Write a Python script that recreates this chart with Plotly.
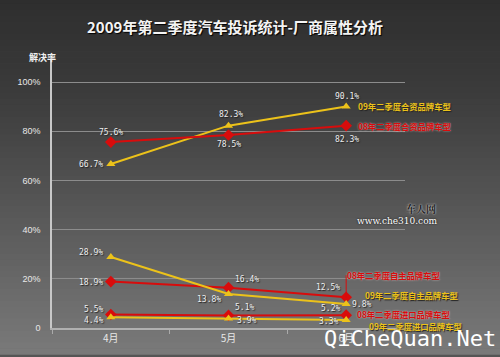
import plotly.graph_objects as go

# ---- data ----
months = ["4月", "5月", "6月"]
y09_jv = [66.7, 82.3, 90.1]      # 09年二季度合资品牌车型
y08_jv = [75.6, 78.5, 82.3]      # 08年二季度合资品牌车型
y08_own = [18.9, 16.4, 12.5]     # 08年二季度自主品牌车型
y09_own = [28.9, 13.8, 9.8]      # 09年二季度自主品牌车型
y08_imp = [5.5, 5.1, 5.2]        # 08年二季度进口品牌车型
y09_imp = [4.4, 3.9, 3.3]        # 09年二季度进口品牌车型
ytick_vals = [0, 20, 40, 60, 80, 100]
ytick_text = ["0", "20%", "40%", "60%", "80%", "100%"]

YELLOW = "#ecc21a"
RED = "#d80c0c"

series = [
    ("09年二季度合资品牌车型", y09_jv, YELLOW, "triangle-up",
     [(-6, 0, "right"), (2, 11, "center"), (1, 10, "center")], (10, 0)),
    ("08年二季度合资品牌车型", y08_jv, RED, "diamond",
     [(0, 10, "center"), (0, -10, "center"), (1, -14, "center")], (10, 0)),
    ("08年二季度自主品牌车型", y08_own, RED, "diamond",
     [(-6, -1, "right"), (4, 8, "left"), (-4, 10, "right")], (-1, 22)),
    ("09年二季度自主品牌车型", y09_own, YELLOW, "triangle-up",
     [(-6, 4, "right"), (-6, -5, "right"), (4, -1, "left")], (17, 9)),
    ("08年二季度进口品牌车型", y08_imp, RED, "diamond",
     [(-6, 5, "right"), (4, 8, "left"), (-4, 7, "right")], (9, 1)),
    ("09年二季度进口品牌车型", y09_imp, YELLOW, "triangle-up",
     [(-6, -3, "right"), (6, -2, "left"), (-6, -2, "right")], (21, -6)),
]

fig = go.Figure()

# background gradient (style only)
stops = [(0.0, (0x2e, 0x2e, 0x2e)), (0.25, (0x3a, 0x3a, 0x3a)), (0.5, (0x4f, 0x4f, 0x4f)),
         (0.75, (0x64, 0x64, 0x64)), (1.0, (0x7a, 0x7a, 0x7a))]


def grad(t):
    for (t0, c0), (t1, c1) in zip(stops[:-1], stops[1:]):
        if t0 <= t <= t1:
            f = (t - t0) / (t1 - t0)
            return "rgb(%d,%d,%d)" % tuple(round(a + (b - a) * f) for a, b in zip(c0, c1))
    return "rgb(122,122,122)"


n = 60
shapes = []
for i in range(n):
    t = (i + 0.5) / n
    shapes.append(dict(type="rect", xref="paper", yref="paper", x0=-0.2, x1=1.3,
                       y0=1.23 - (i + 1) * 1.33 / n, y1=1.23 - i * 1.33 / n + 0.002,
                       fillcolor=grad(t), line=dict(width=0), layer="below"))

annotations = []
for name, vals, col, sym, offs, loff in series:
    fig.add_trace(go.Scatter(
        x=months, y=vals, mode="lines+markers", name=name,
        line=dict(color=col, width=2),
        marker=dict(symbol=sym, size=9 if sym == "diamond" else 8, color=col),
        showlegend=False, hoverinfo="skip"))
    for m, v, (xs, ys, xa) in zip(months, vals, offs):
        annotations.append(dict(
            x=m, y=v, xref="x", yref="y", text=f"{v:.1f}%", showarrow=False,
            xanchor=xa, yanchor="middle", xshift=xs, yshift=ys,
            font=dict(family="DejaVu Sans Mono", size=8, color="#eeeeee",
                      shadow="1px 1px 1px #222")))
    annotations.append(dict(
        x=months[-1], y=vals[-1], xref="x", yref="y", text=f"<b>{name}</b>",
        showarrow=False, xanchor="left", yanchor="middle",
        xshift=loff[0], yshift=loff[1],
        font=dict(family="Noto Sans CJK SC", size=8.3, color=col,
                  shadow=("0px 0px 2px rgba(255,235,235,0.7)" if col == RED else "1px 1px 1px #222"))))

# connector for 08 own-brand label
shapes.append(dict(type="line", xref="x", yref="y", x0=months[-1], x1=months[-1],
                   y0=y08_own[-1], y1=y08_own[-1] + 9, line=dict(color=RED, width=1)))

annotations += [
    dict(text="<b>2009年第二季度汽车投诉统计-厂商属性分析</b>", xref="paper", yref="paper",
         x=(235 - 52) / 353, y=(330 - 26) / 270, showarrow=False, xanchor="center", yanchor="middle",
         font=dict(family="Noto Sans CJK SC", size=15, color="#f4f4f4", shadow="1px 1px 1px #000")),
    dict(text="<b>解决率</b>", xref="paper", yref="paper", x=(27 - 52) / 353, y=(330 - 57) / 270,
         showarrow=False, xanchor="left", yanchor="middle",
         font=dict(family="Noto Sans CJK SC", size=9, color="#f0f0f0")),
    dict(text="<b>车人网</b>", xref="paper", yref="paper", x=(421 - 52) / 353, y=(330 - 210) / 270,
         showarrow=False, xanchor="center", yanchor="middle",
         font=dict(family="Noto Serif CJK SC, Noto Sans CJK SC", size=10, color="#222222",
                   shadow="0px 0px 2px #ffffff")),
    dict(text="www.che310.com", xref="paper", yref="paper", x=(397 - 52) / 353, y=(330 - 222) / 270,
         showarrow=False, xanchor="center", yanchor="middle",
         font=dict(family="DejaVu Serif", size=9, color="#ffffff", shadow="0px 0px 2px #000000")),
    dict(text="QiCheQuan.Net", xref="paper", yref="paper", x=(498 - 52) / 353, y=(330 - 341) / 270,
         showarrow=False, xanchor="right", yanchor="middle",
         font=dict(family="DejaVu Sans Mono", size=22, color="#ffffff")),
]

fig.update_layout(
    width=500, height=357,
    margin=dict(l=52, r=95, t=60, b=27),
    paper_bgcolor="#555555", plot_bgcolor="rgba(0,0,0,0)",
    shapes=shapes, annotations=annotations,
    xaxis=dict(type="category", categoryorder="array", categoryarray=months,
               range=[-0.5, 2.5], showgrid=False, showline=True, linecolor="#b0b0b0",
               linewidth=2, ticks="outside", tickson="boundaries", ticklen=4,
               tickcolor="#aaaaaa",
               tickfont=dict(family="Noto Sans CJK SC", size=10, color="#e8e8e8"),
               zeroline=False, fixedrange=True),
    yaxis=dict(range=[0, 109], tickvals=ytick_vals, ticktext=ytick_text,
               showgrid=True, gridcolor="#8c8c8c", gridwidth=1, showline=True,
               linecolor="#c8c8c8", linewidth=1.5, ticks="", zeroline=False,
               ticklabelstandoff=8,
               tickfont=dict(family="Liberation Sans", size=9, color="#e8e8e8"), fixedrange=True),
)

fig.write_html("out.html", config={"displayModeBar": False},
               post_script="document.body.style.margin='0';document.body.style.overflow='hidden';")
